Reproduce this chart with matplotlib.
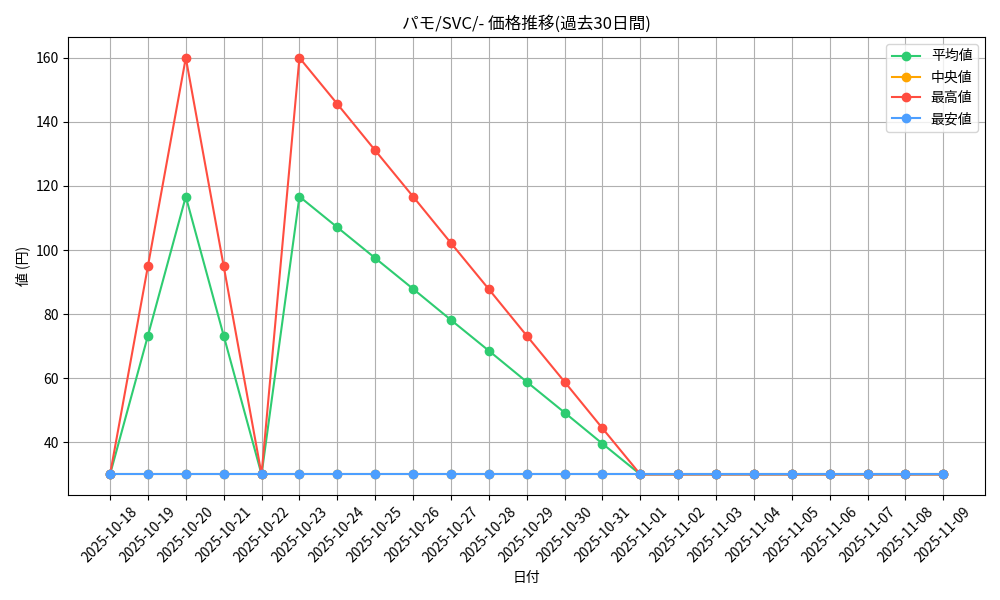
import matplotlib
matplotlib.use('Agg')
import matplotlib.pyplot as plt

dates = ['2025-10-18', '2025-10-19', '2025-10-20', '2025-10-21', '2025-10-22',
         '2025-10-23', '2025-10-24', '2025-10-25', '2025-10-26', '2025-10-27',
         '2025-10-28', '2025-10-29', '2025-10-30', '2025-10-31', '2025-11-01',
         '2025-11-02', '2025-11-03', '2025-11-04', '2025-11-05', '2025-11-06',
         '2025-11-07', '2025-11-08', '2025-11-09']
avg_vals = [30, 73.3, 116.7, 73.3, 30, 116.7, 107.1, 97.5, 87.9, 78.2,
            68.6, 58.9, 49.3, 39.6, 30, 30, 30, 30, 30, 30, 30, 30, 30]
median_vals = [30] * 23
max_vals = [30, 95, 160, 95, 30, 160, 145.6, 131.1, 116.7, 102.2,
            87.8, 73.3, 58.9, 44.4, 30, 30, 30, 30, 30, 30, 30, 30, 30]
min_vals = [30] * 23

plt.rcParams['font.family'] = ['Noto Sans CJK JP', 'DejaVu Sans']


def main():
    fig, ax = plt.subplots(figsize=(10, 6), dpi=100)
    x = list(range(len(dates)))
    ax.plot(x, avg_vals, marker='o', color='#2ecc71', label='平均値')
    ax.plot(x, median_vals, marker='o', color='#ffa500', label='中央値')
    ax.plot(x, max_vals, marker='o', color='#ff4d40', label='最高値')
    ax.plot(x, min_vals, marker='o', color='#4d9fff', label='最安値')
    ax.set_xticks(x)
    ax.set_xticklabels(dates, rotation=45)
    ax.set_xlabel('日付')
    ax.set_ylabel('値 (円)')
    ax.set_title('パモ/SVC/- 価格推移(過去30日間)')
    ax.legend(loc='upper right')
    ax.grid(True)
    fig.tight_layout()
    fig.savefig('out.png')


if __name__ == '__main__':
    main()
